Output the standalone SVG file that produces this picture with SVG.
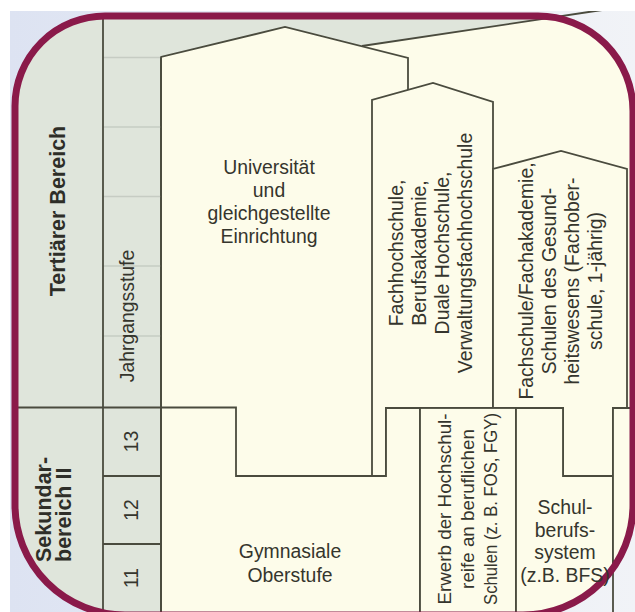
<svg xmlns="http://www.w3.org/2000/svg" width="635" height="612" viewBox="0 0 635 612">
  <defs>
    <linearGradient id="outside" x1="0" y1="0" x2="1" y2="0">
      <stop offset="0" stop-color="#dde3f2"/>
      <stop offset="1" stop-color="#f1f3f7"/>
    </linearGradient>
    <clipPath id="frameClip">
      <path d="M105,16 H538 A95,95 0 0 1 633,111 V505 A110,110 0 0 1 523,615 H125 A110,110 0 0 1 15,505 V106 A90,90 0 0 1 105,16 Z"/>
    </clipPath>
    <style>
      .box { fill: #fdfcea; stroke: #4a4b3e; stroke-width: 1.8; stroke-linejoin: miter; }
      .ln { stroke: #4a4b3e; stroke-width: 1.8; fill: none; }
      .faint { stroke: #c6ccc3; stroke-width: 1.5; fill: none; }
      .t { font-family: "Liberation Sans", Arial, sans-serif; font-size: 19.4px; fill: #35352d; text-anchor: middle; }
      .ts { font-family: "Liberation Sans", Arial, sans-serif; font-size: 18.8px; fill: #35352d; text-anchor: middle; }
      .tb { font-family: "Liberation Sans", Arial, sans-serif; font-size: 21.5px; font-weight: bold; fill: #2e2e28; }
      .frame { fill: none; stroke: #8a1a4a; stroke-width: 7; }
    </style>
  </defs>

  <!-- page background -->
  <rect x="0" y="0" width="635" height="612" fill="#ffffff"/>
  <rect x="10" y="11" width="625" height="601" fill="url(#outside)"/>

  <!-- panel interior -->
  <path d="M105,16 H538 A95,95 0 0 1 633,111 V505 A110,110 0 0 1 523,615 H125 A110,110 0 0 1 15,505 V106 A90,90 0 0 1 105,16 Z" fill="#dfe5db"/>

  <g clip-path="url(#frameClip)">
    <!-- background cream area below the diagonal -->
    <polygon points="362,46 600,10 645,10 645,408 362,408" fill="#fdfcea"/>

    <g id="universitaet">
      <polygon class="box" points="161,476 161,57 285,27 408,58 408,476"/>
    </g>
    <g id="fachhochschule">
      <polygon class="box" points="372,476 372,100 433,83 493,102 493,408 386,408 386,476"/>
    </g>
    <g id="fachschule">
      <polygon class="box" points="493,408 493,169 561,151 627,169 627,408 613,408 613,476 563,476 563,408"/>
    </g>
    <g id="gymnasiale-oberstufe">
      <polygon class="box" points="161,407.5 236,407.5 236,476 386,476 386,408 420,408 420,625 161,625"/>
    </g>
    <g id="erwerb-hochschulreife">
      <rect class="box" x="420" y="408" width="96" height="217"/>
    </g>
    <g id="schulberufssystem">
      <polygon class="box" points="516,408 563,408 563,476 613,476 613,625 516,625"/>
    </g>
    <g id="rechte-spalte">
      <polygon class="box" points="613,408 650,408 650,625 613,625"/>
    </g>

    <!-- left columns -->
    <g id="spalten">
      <line class="faint" x1="103" y1="57.5" x2="161" y2="57.5"/>
      <line class="faint" x1="103" y1="127" x2="161" y2="127"/>
      <line class="faint" x1="103" y1="196.5" x2="161" y2="196.5"/>
      <line class="faint" x1="103" y1="266" x2="161" y2="266"/>
      <line class="faint" x1="103" y1="336" x2="161" y2="336"/>
      <line class="ln" x1="103" y1="10" x2="103" y2="615"/>
      <line class="ln" x1="161" y1="57" x2="161" y2="615"/>
      <line class="ln" x1="10" y1="407.5" x2="161" y2="407.5"/>
      <line class="ln" x1="103" y1="476" x2="161" y2="476"/>
      <line class="ln" x1="103" y1="544" x2="161" y2="544"/>
    </g>
  </g>

  <!-- lines continuing beyond the frame -->
  <g id="connectors">
    <line class="ln" x1="362" y1="46" x2="602" y2="10"/>
    <line class="ln" x1="613" y1="560" x2="613" y2="612"/>
  </g>

  <!-- frame -->
  <path class="frame" d="M105,16 H538 A95,95 0 0 1 633,111 V505 A110,110 0 0 1 523,615 H125 A110,110 0 0 1 15,505 V106 A90,90 0 0 1 105,16 Z"/>

  <!-- white margins -->
  <rect x="0" y="0" width="635" height="11" fill="#ffffff"/>
  <rect x="0" y="0" width="10" height="612" fill="#ffffff"/>

  <!-- texts -->
  <g id="label-tertiaer">
    <text class="tb" text-anchor="middle" transform="translate(65,211) rotate(-90)">Tertiärer Bereich</text>
  </g>
  <g id="label-sekundar">
    <text class="tb" text-anchor="start" transform="translate(51,562) rotate(-90)">Sekundar-</text>
    <text class="tb" text-anchor="start" transform="translate(71,562) rotate(-90)">bereich II</text>
  </g>
  <g id="label-jahrgang">
    <text class="t" transform="translate(134,316) rotate(-90)">Jahrgangsstufe</text>
    <text class="t" transform="translate(138,441.5) rotate(-90)">13</text>
    <text class="t" transform="translate(138,510) rotate(-90)">12</text>
    <text class="t" transform="translate(138,578) rotate(-90)">11</text>
  </g>
  <g id="text-universitaet">
    <text class="t" x="269" y="174">Universität</text>
    <text class="t" x="269" y="197">und</text>
    <text class="t" x="269" y="220">gleichgestellte</text>
    <text class="t" x="269" y="243">Einrichtung</text>
  </g>
  <g id="text-fachhochschule">
    <text class="t" transform="translate(403,253) rotate(-90)">Fachhochschule,</text>
    <text class="t" transform="translate(426,253) rotate(-90)">Berufsakademie,</text>
    <text class="t" transform="translate(449,253) rotate(-90)">Duale Hochschule,</text>
    <text class="t" transform="translate(472,253) rotate(-90)">Verwaltungsfachhochschule</text>
  </g>
  <g id="text-fachschule">
    <text class="t" transform="translate(533,281) rotate(-90)">Fachschule/Fachakademie,</text>
    <text class="t" transform="translate(556,281) rotate(-90)">Schulen des Gesund-</text>
    <text class="t" transform="translate(579,281) rotate(-90)">heitswesens (Fachober-</text>
    <text class="t" transform="translate(602,281) rotate(-90)">schule, 1-jährig)</text>
  </g>
  <g id="text-gymnasiale">
    <text class="t" x="290" y="558">Gymnasiale</text>
    <text class="t" x="290" y="582">Oberstufe</text>
  </g>
  <g id="text-erwerb">
    <text class="ts" transform="translate(451,509) rotate(-90)">Erwerb der Hochschul-</text>
    <text class="ts" transform="translate(474,509) rotate(-90)">reife an beruflichen</text>
    <text class="ts" transform="translate(497,509) rotate(-90)" textLength="192" lengthAdjust="spacingAndGlyphs">Schulen (z. B. FOS, FGY)</text>
  </g>
  <g id="text-schulberufssystem">
    <text class="t" x="565" y="514">Schul-</text>
    <text class="t" x="565" y="537">berufs-</text>
    <text class="t" x="565" y="559">system</text>
    <text class="t" x="565" y="582">(z.B. BFS)</text>
  </g>
</svg>
